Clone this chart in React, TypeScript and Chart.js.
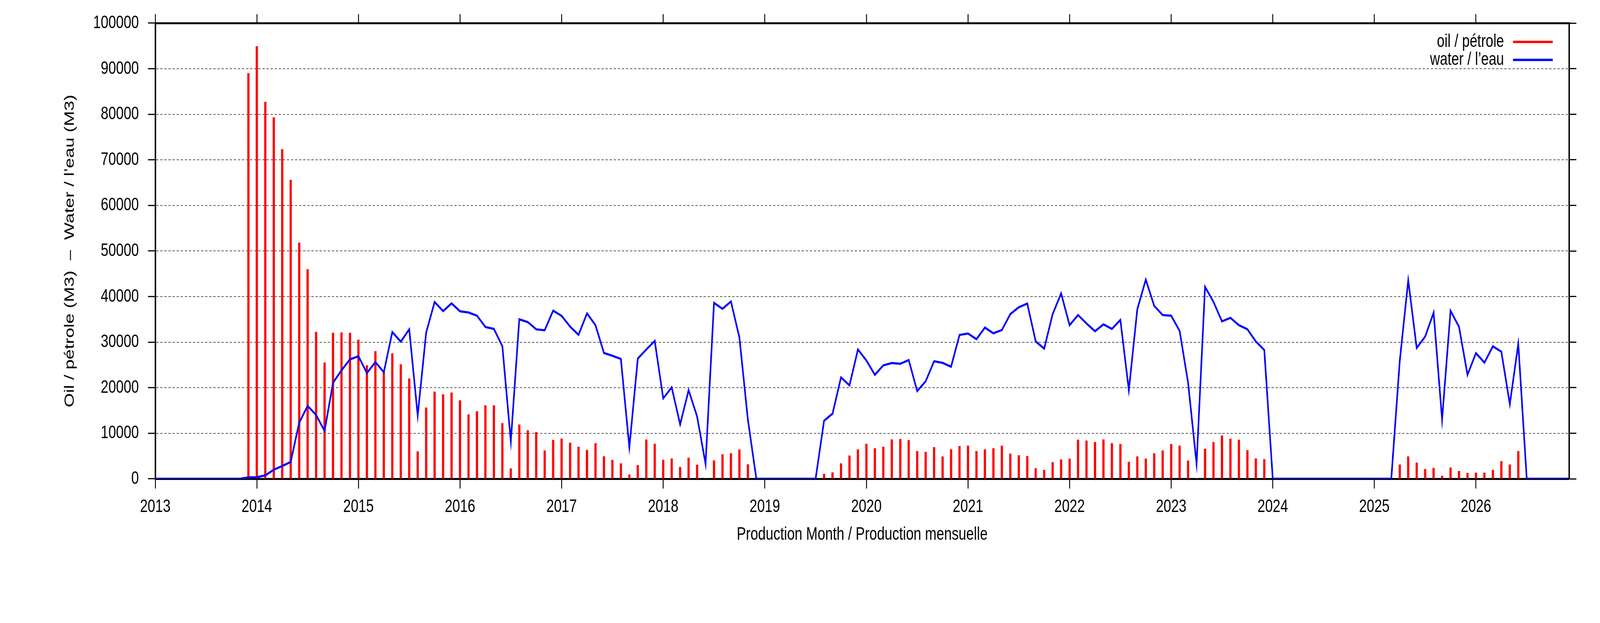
import React, { useEffect, useRef } from "react";
import { Chart, registerables } from "chart.js";

Chart.register(...registerables);

const START_YEAR = 2013;
const END_MONTH_INDEX = 167; // Dec 2026, months after Jan 2013

// Monthly oil production (M3), Jan..Dec
const OIL_2013 = [0, 0, 0, 0, 0, 0, 0, 0, 0, 0, 0, 89000];
const OIL_2014 = [94900, 82700, 79300, 72300, 65600, 51800, 46000, 32200, 25500, 32000, 32100, 32000];
const OIL_2015 = [30500, 24900, 28000, 23500, 27500, 25100, 22000, 6000, 15600, 19100, 18500, 18900];
const OIL_2016 = [17200, 14100, 14800, 16100, 16100, 12200, 2250, 11900, 10600, 10250, 6200, 8500];
const OIL_2017 = [8800, 7900, 7000, 6300, 7800, 4900, 4100, 3350, 900, 3000, 8600, 7640];
const OIL_2018 = [4140, 4430, 2570, 4600, 3070, 100, 4000, 5360, 5600, 6400, 3140, 0];
const OIL_2019 = [0, 0, 0, 0, 0, 0, 0, 1040, 1390, 3360, 5070, 6430];
const OIL_2020 = [7640, 6680, 7000, 8610, 8710, 8460, 6070, 5890, 6930, 4890, 6430, 7180];
const OIL_2021 = [7250, 6070, 6430, 6680, 7250, 5500, 5140, 4960, 2290, 1930, 3610, 4210];
const OIL_2022 = [4390, 8540, 8360, 8040, 8610, 7790, 7610, 3710, 4890, 4390, 5570, 6180];
const OIL_2023 = [7610, 7250, 3960, 150, 6570, 8040, 9460, 8790, 8540, 6250, 4460, 4290];
const OIL_2024 = [0, 0, 0, 0, 0, 0, 0, 0, 0, 0, 0, 0];
const OIL_2025 = [0, 0, 0, 3110, 4890, 3540, 2110, 2360, 640, 2430, 1680, 1250];
const OIL_2026 = [1320, 1320, 1930, 3860, 3110, 6070, 0, 0, 0, 0, 0, 0];

// Monthly water production (M3), Jan..Dec
const WATER_2013 = [0, 0, 0, 0, 0, 0, 0, 0, 0, 0, 0, 300];
const WATER_2014 = [350, 750, 2000, 2800, 3700, 12300, 16000, 14000, 10500, 21100, 23800, 26200];
const WATER_2015 = [26900, 23200, 25600, 23400, 32200, 30100, 32800, 13900, 32100, 38800, 36800, 38500];
const WATER_2016 = [36750, 36500, 35800, 33300, 32900, 29100, 8200, 35000, 34400, 32800, 32600, 36900];
const WATER_2017 = [35750, 33400, 31600, 36300, 33700, 27600, 27000, 26300, 6900, 26400, 28360, 30250];
const WATER_2018 = [17640, 20070, 11930, 19430, 13700, 3290, 38600, 37300, 38900, 31000, 13000, 0];
const WATER_2019 = [0, 0, 0, 0, 0, 0, 0, 12750, 14290, 22250, 20500, 28360];
const WATER_2020 = [25960, 22820, 24900, 25400, 25250, 26040, 19250, 21400, 25800, 25430, 24600, 31570];
const WATER_2021 = [31890, 30640, 33180, 31930, 32640, 36140, 37640, 38460, 30140, 28570, 36140, 40680];
const WATER_2022 = [33710, 35930, 34070, 32390, 33890, 32890, 34860, 19430, 37210, 43710, 37930, 35930];
const WATER_2023 = [35790, 32460, 21040, 3290, 42110, 38820, 34540, 35320, 33710, 32820, 30140, 28250];
const WATER_2024 = [0, 0, 0, 0, 0, 0, 0, 0, 0, 0, 0, 0];
const WATER_2025 = [0, 0, 0, 25860, 43540, 28710, 31210, 36460, 13000, 36860, 33360, 22820];
const WATER_2026 = [27570, 25500, 29070, 27890, 16390, 29610, 0, 0, 0, 0, 0, 0];

const OIL_BY_YEAR = [OIL_2013, OIL_2014, OIL_2015, OIL_2016, OIL_2017, OIL_2018, OIL_2019,
  OIL_2020, OIL_2021, OIL_2022, OIL_2023, OIL_2024, OIL_2025, OIL_2026];
const WATER_BY_YEAR = [WATER_2013, WATER_2014, WATER_2015, WATER_2016, WATER_2017, WATER_2018, WATER_2019,
  WATER_2020, WATER_2021, WATER_2022, WATER_2023, WATER_2024, WATER_2025, WATER_2026];

const SERIES_LABELS = ["oil / pétrole", "water / l’eau"];
const X_TITLE = "Production Month / Production mensuelle";
const Y_TITLE = "Oil / pétrole (M3)  –  Water / l’eau (M3)";
const Y_MIN = 0;
const Y_MAX = 100000;
const Y_STEP = 10000;

function toPoints(byYear: number[][]) {
  const pts: { x: number; y: number }[] = [];
  byYear.forEach((months, yi) => {
    months.forEach((v, m) => {
      pts.push({ x: START_YEAR + yi + m / 12, y: v });
    });
  });
  return pts;
}

const FONT_FAMILY = '"Liberation Sans", Arial, Helvetica, sans-serif';
// drawing buffer matches the reference picture; it is shown fitted to the window
const W = 5483;
const H = 1594;

const insideLegend = {
  id: "insideLegend",
  afterDatasetsDraw(chart: any) {
    const { ctx, chartArea } = chart;
    ctx.save();
    ctx.font = `47px ${FONT_FAMILY}`;
    ctx.textAlign = "right";
    ctx.textBaseline = "middle";
    chart.data.datasets.forEach((ds: any, i: number) => {
      const y = chartArea.top + 48 + i * 46;
      ctx.fillStyle = "#000";
      ctx.fillText(ds.label, chartArea.right - 223, y);
      ctx.strokeStyle = ds.borderColor;
      ctx.lineWidth = 6;
      ctx.beginPath();
      ctx.moveTo(chartArea.right - 192, y);
      ctx.lineTo(chartArea.right - 56, y);
      ctx.stroke();
    });
    ctx.restore();
  },
};

export default function App() {
  const canvasRef = useRef<HTMLCanvasElement | null>(null);

  useEffect(() => {
    document.body.style.margin = "0";
    document.body.style.overflow = "hidden";
    const canvas = canvasRef.current;
    if (!canvas) return;
    Chart.defaults.font.family = FONT_FAMILY;
    Chart.defaults.font.size = 47;
    Chart.defaults.color = "#000";

    const xMin = START_YEAR;
    const xMax = START_YEAR + END_MONTH_INDEX / 12;

    const chart = new Chart(canvas, {
      type: "bar",
      data: {
        datasets: [
          {
            type: "bar",
            label: SERIES_LABELS[0],
            data: toPoints(OIL_BY_YEAR),
            backgroundColor: "#ff0000",
            borderColor: "#ff0000",
            borderWidth: 0,
            barThickness: 7,
            xAxisID: "x",
            yAxisID: "y",
            order: 1,
          } as any,
          {
            type: "line",
            label: SERIES_LABELS[1],
            data: toPoints(WATER_BY_YEAR),
            borderColor: "#0000ff",
            backgroundColor: "#0000ff",
            borderWidth: 5.5,
            pointRadius: 0,
            tension: 0,
            fill: false,
            xAxisID: "x",
            yAxisID: "y",
            order: 0,
          } as any,
        ],
      },
      options: {
        responsive: false,
        animation: false,
        devicePixelRatio: 1,
        layout: { padding: 0 },
        plugins: {
          legend: { display: false },
          tooltip: { enabled: false },
        },
        scales: {
          x: {
            type: "linear",
            position: "bottom",
            min: xMin,
            max: xMax,
            offset: false,
            ticks: {
              stepSize: 1,
              includeBounds: false,
              autoSkip: false,
              maxRotation: 0,
              padding: 19,
              color: "#000",
              font: { size: 47 },
              callback: (v: any) => String(v),
            },
            grid: {
              offset: false,
              drawOnChartArea: false,
              drawTicks: true,
              tickLength: 25,
              tickWidth: 3,
              tickColor: "#000",
            },
            border: { display: true, color: "#000", width: 5 },
            title: {
              display: true,
              text: X_TITLE,
              color: "#000",
              font: { size: 47 },
              padding: { top: 0, bottom: 198 },
            },
            afterFit: (s: any) => {
              s.height = 369;
            },
          },
          xTop: {
            type: "linear",
            position: "top",
            min: xMin,
            max: xMax,
            offset: false,
            ticks: { display: false, stepSize: 1, includeBounds: false, autoSkip: false },
            grid: {
              offset: false,
              drawOnChartArea: false,
              drawTicks: true,
              tickLength: 23,
              tickWidth: 3,
              tickColor: "#000",
            },
            border: { display: true, color: "#000", width: 5 },
            afterFit: (s: any) => {
              s.height = 46;
            },
          },
          y: {
            type: "linear",
            position: "left",
            min: Y_MIN,
            max: Y_MAX,
            ticks: {
              stepSize: Y_STEP,
              padding: 31,
              color: "#000",
              font: { size: 47 },
              callback: (v: any) => String(v),
            },
            grid: {
              offset: false,
              color: "rgba(0,0,0,0.85)",
              lineWidth: 1.5,
              drawTicks: true,
              tickLength: 25,
              tickWidth: 3,
              tickColor: "#000",
            },
            border: { display: true, color: "#000", width: 5, dash: [8, 6] },
            title: {
              display: true,
              text: Y_TITLE,
              color: "#000",
              font: { size: 47 },
              padding: { top: 212, bottom: 0 },
            },
            afterFit: (s: any) => {
              s.width = 532;
            },
          },
          yRight: {
            type: "linear",
            position: "right",
            min: Y_MIN,
            max: Y_MAX,
            ticks: { display: false, stepSize: Y_STEP },
            grid: {
              offset: false,
              drawOnChartArea: false,
              drawTicks: true,
              tickLength: 25,
              tickWidth: 3,
              tickColor: "#000",
            },
            border: { display: true, color: "#000", width: 5 },
            afterFit: (s: any) => {
              s.width = 106;
            },
          },
        },
      } as any,
      plugins: [insideLegend],
    });

    return () => {
      chart.destroy();
    };
  }, []);

  return (
    <div style={{ width: "100vw", height: "100vh", background: "#fff", overflow: "hidden" }}>
      <canvas
        ref={canvasRef}
        width={W}
        height={H}
        style={{ display: "block", width: "100vw", height: "100vh" }}
      />
    </div>
  );
}
